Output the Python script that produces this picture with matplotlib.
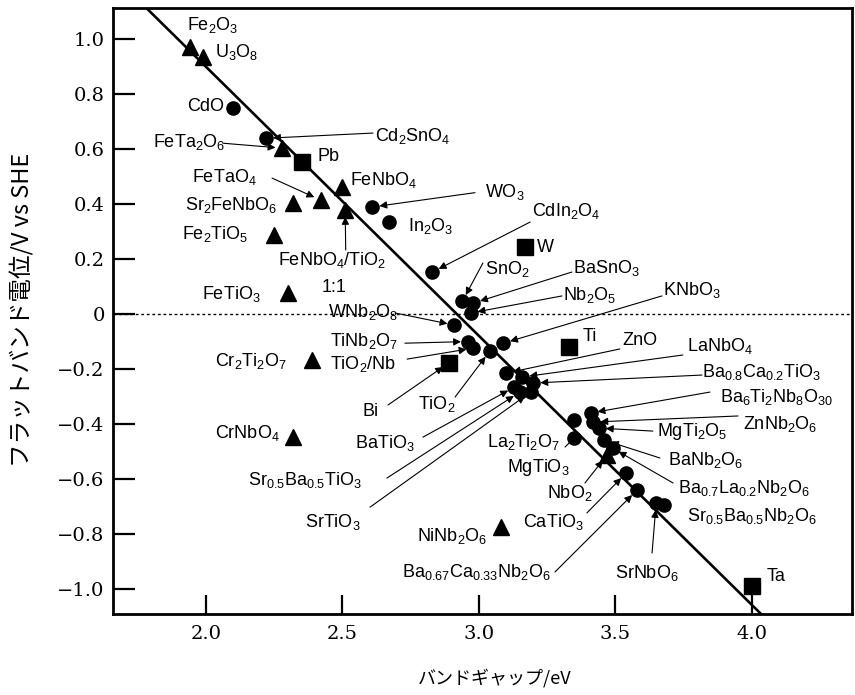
import re
import matplotlib
matplotlib.use("Agg")
import matplotlib.pyplot as plt

plt.rcParams["font.family"] = ["Liberation Sans", "DejaVu Sans"]
plt.rcParams["mathtext.default"] = "regular"

# ---- data: band gap (eV) and flat-band potential (V vs SHE) ----
circle_names = ["CdO", "Cd2SnO4", "WO3", "In2O3", "CdIn2O4", "SnO2", "BaSnO3",
                "Nb2O5", "WNb2O8", "TiNb2O7", "TiO2/Nb", "TiO2", "KNbO3", "ZnO",
                "LaNbO4", "Ba0.8Ca0.2TiO3", "BaTiO3", "Sr0.5Ba0.5TiO3", "SrTiO3",
                "Ba6Ti2Nb8O30", "ZnNb2O6", "La2Ti2O7", "MgTiO3", "MgTi2O5",
                "BaNb2O6", "Ba0.7La0.2Nb2O6", "CaTiO3", "Ba0.67Ca0.33Nb2O6",
                "Sr0.5Ba0.5Nb2O6", "SrNbO6"]
circle_gap = [2.10, 2.22, 2.61, 2.67, 2.83, 2.94, 2.98, 2.97, 2.91, 2.96, 2.98,
              3.04, 3.09, 3.10, 3.16, 3.20, 3.13, 3.15, 3.19, 3.41, 3.42, 3.35,
              3.35, 3.44, 3.46, 3.49, 3.54, 3.58, 3.68, 3.65]
circle_efb = [0.75, 0.64, 0.39, 0.335, 0.153, 0.047, 0.04, 0.004, -0.04, -0.10,
              -0.124, -0.135, -0.106, -0.215, -0.229, -0.251, -0.266, -0.284,
              -0.284, -0.36, -0.393, -0.386, -0.451, -0.415, -0.459, -0.488,
              -0.579, -0.641, -0.695, -0.688]

triangle_names = ["Fe2O3", "U3O8", "FeTa2O6", "FeNbO4", "FeTaO4", "Sr2FeNbO6",
                  "FeNbO4/TiO2", "Fe2TiO5", "FeTiO3", "Cr2Ti2O7", "CrNbO4",
                  "NiNb2O6", "NbO2"]
triangle_gap = [1.94, 1.99, 2.28, 2.50, 2.42, 2.32, 2.51, 2.25, 2.30, 2.39,
                2.32, 3.08, 3.47]
triangle_efb = [0.972, 0.936, 0.604, 0.462, 0.415, 0.404, 0.379, 0.288, 0.076,
                -0.167, -0.448, -0.775, -0.513]

square_names = ["Pb", "W", "Ti", "Bi", "Ta"]
square_gap = [2.35, 3.17, 3.33, 2.89, 4.00]
square_efb = [0.553, 0.244, -0.12, -0.178, -0.99]

# fitted trend line
fit_slope = -0.979
fit_intercept = 2.858

x_ticks = [2.0, 2.5, 3.0, 3.5, 4.0]
x_tick_labels = ["2.0", "2.5", "3.0", "3.5", "4.0"]
y_ticks = [-1.0, -0.8, -0.6, -0.4, -0.2, 0.0, 0.2, 0.4, 0.6, 0.8, 1.0]
y_tick_labels = ["\u22121.0", "\u22120.8", "\u22120.6", "\u22120.4", "\u22120.2",
                 "0", "0.2", "0.4", "0.6", "0.8", "1.0"]

# label placement: name, text x, text y, arrow tail (or None)
labels = [
    ("Fe2O3", 1.930, 1.052, None),
    ("U3O8", 2.033, 0.954, None),
    ("CdO", 1.930, 0.754, None),
    ("Cd2SnO4", 2.619, 0.648, (2.612, 0.659)),
    ("FeTa2O6", 1.806, 0.626, (2.062, 0.622)),
    ("Pb", 2.407, 0.572, None),
    ("FeTaO4", 1.949, 0.499, (2.242, 0.495)),
    ("FeNbO4", 2.528, 0.488, None),
    ("Sr2FeNbO6", 1.923, 0.397, None),
    ("Fe2TiO5", 1.912, 0.291, None),
    ("FeNbO4/TiO2", 2.264, 0.197, (2.512, 0.233)),
    ("FeTiO3", 1.985, 0.073, None),
    ("WO3", 3.023, 0.444, (2.986, 0.442)),
    ("In2O3", 2.740, 0.320, None),
    ("CdIn2O4", 3.195, 0.375, (3.188, 0.335)),
    ("W", 3.213, 0.244, None),
    ("SnO2", 3.023, 0.164, (3.015, 0.186)),
    ("BaSnO3", 3.345, 0.167, (3.341, 0.153)),
    ("Nb2O5", 3.308, 0.069, (3.305, 0.066)),
    ("KNbO3", 3.675, 0.087, (3.671, 0.066)),
    ("WNb2O8", 2.447, 0.007, (2.693, 0.004)),
    ("TiNb2O7", 2.454, -0.098, (2.729, -0.106)),
    ("Ti", 3.382, -0.080, None),
    ("ZnO", 3.525, -0.098, (3.517, -0.127)),
    ("LaNbO4", 3.763, -0.116, (3.748, -0.149)),
    ("TiO2/Nb", 2.454, -0.182, (2.737, -0.164)),
    ("Cr2Ti2O7", 2.033, -0.171, None),
    ("Ba0.8Ca0.2TiO3", 3.818, -0.211, (3.818, -0.222)),
    ("Ba6Ti2Nb8O30", 3.884, -0.302, (3.847, -0.284)),
    ("TiO2", 2.777, -0.328, (2.913, -0.302)),
    ("Bi", 2.572, -0.353, (2.667, -0.331)),
    ("ZnNb2O6", 3.968, -0.400, (3.950, -0.371)),
    ("MgTi2O5", 3.653, -0.426, (3.638, -0.426)),
    ("CrNbO4", 2.033, -0.433, None),
    ("La2Ti2O7", 3.030, -0.466, None),
    ("BaTiO3", 2.546, -0.470, (2.795, -0.448)),
    ("BaNb2O6", 3.693, -0.531, (3.664, -0.524)),
    ("MgTiO3", 3.103, -0.557, (3.316, -0.484)),
    ("Sr0.5Ba0.5TiO3", 2.154, -0.604, (2.663, -0.597)),
    ("Ba0.7La0.2Nb2O6", 3.730, -0.633, (3.712, -0.615)),
    ("NbO2", 3.250, -0.652, (3.389, -0.615)),
    ("Sr0.5Ba0.5Nb2O6", 3.763, -0.735, None),
    ("CaTiO3", 3.162, -0.757, (3.396, -0.724)),
    ("SrTiO3", 2.363, -0.757, (2.601, -0.703)),
    ("NiNb2O6", 2.773, -0.808, None),
    ("Ba0.67Ca0.33Nb2O6", 2.718, -0.939, (3.279, -0.939)),
    ("SrNbO6", 3.499, -0.943, (3.635, -0.870)),
    ("Ta", 4.056, -0.957, None),
]
plain_leaders = {"MgTiO3"}


def formula(name):
    # digits after element symbols become subscripts
    return re.sub(r"(\d+(?:\.\d+)?)", r"$_{\1}$", name)


points = {}
for n, g, e in zip(circle_names, circle_gap, circle_efb):
    points[n] = (g, e)
for n, g, e in zip(triangle_names, triangle_gap, triangle_efb):
    points[n] = (g, e)
for n, g, e in zip(square_names, square_gap, square_efb):
    points[n] = (g, e)

fig = plt.figure(figsize=(8.55, 6.95), dpi=100)
ax = fig.add_axes([0.1322, 0.1165, 0.8643, 0.8719])

ax.set_xlim(1.659, 4.368)
ax.set_ylim(-1.092, 1.114)

ax.axhline(0, color="k", lw=1.0, ls=(0, (2, 2)), zorder=1)
ax.axline((0, fit_intercept), slope=fit_slope, color="k", lw=1.9, zorder=2)

ax.plot(circle_gap, circle_efb, "o", ms=9.5, color="k", zorder=3)
ax.plot(triangle_gap, triangle_efb, "^", ms=11.5, color="k", zorder=3)
ax.plot(square_gap, square_efb, "s", ms=11, color="k", zorder=3)

for name, tx, ty, tail in labels:
    ax.text(tx, ty, formula(name), ha="left", va="center", fontsize=13,
            zorder=4)
    if tail is not None:
        style = "-" if name in plain_leaders else "-|>"
        ax.annotate("", xy=points[name], xytext=tail,
                    arrowprops=dict(arrowstyle=style, color="k", lw=0.8,
                                    shrinkA=0, shrinkB=5, mutation_scale=11),
                    zorder=4)
ax.text(2.425, 0.098, "1:1", ha="left", va="center", fontsize=13)

ax.set_xticks(x_ticks)
ax.set_xticklabels(x_tick_labels, family="DejaVu Serif", fontsize=14)
ax.set_yticks(y_ticks)
ax.set_yticklabels(y_tick_labels, family="DejaVu Serif", fontsize=14)
ax.tick_params(axis="x", direction="in", length=14, width=1.6, pad=8)
ax.tick_params(axis="y", direction="in", length=15.5, width=1.6, pad=6)
for sp in ax.spines.values():
    sp.set_linewidth(2.0)

jp = ["Noto Sans CJK JP", "DejaVu Sans"]
fig.text(495 / 855, 1 - 678 / 695, "バンドギャップ/eV", ha="center",
         va="center", fontsize=13, family=jp)
fig.text(22 / 855, 1 - 310 / 695, "フラットバンド電位/V vs SHE", ha="center",
         va="center", rotation=90, fontsize=17, family=jp)

fig.savefig("out.png", dpi=100)
